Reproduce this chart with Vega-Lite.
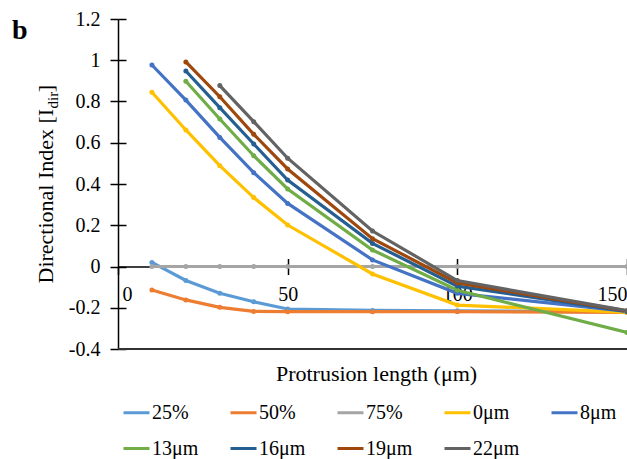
{
  "$schema": "https://vega.github.io/schema/vega-lite/v6.json",
  "width": 509,
  "height": 330,
  "autosize": {"type": "none"},
  "padding": {"left": 118, "top": 19, "right": 0, "bottom": 110},
  "background": "white",
  "title": {"text": "b", "font": "Liberation Serif", "fontSize": 28, "fontWeight": "bold", "color": "black", "anchor": "start", "frame": "group", "orient": "top", "baseline": "alphabetic", "dx": -106, "dy": 58, "offset": 0},
  "config": {
    "view": {"stroke": null},
    "font": "Liberation Serif",
    "axis": {"grid": false, "labelFont": "Liberation Serif", "titleFont": "Liberation Serif", "labelColor": "black", "titleColor": "black", "domainColor": "black", "tickColor": "black", "labelFontSize": 20, "titleFontSize": 22, "titleFontWeight": "normal", "domainWidth": 1.5, "tickWidth": 1.5}
  },
  "data": {"values": [
    {"s": "25%", "x": 10, "y": 0.02}, {"s": "25%", "x": 20, "y": -0.068}, {"s": "25%", "x": 30, "y": -0.13}, {"s": "25%", "x": 40, "y": -0.171}, {"s": "25%", "x": 50, "y": -0.206}, {"s": "25%", "x": 75, "y": -0.213}, {"s": "25%", "x": 100, "y": -0.215}, {"s": "25%", "x": 150, "y": -0.22},
    {"s": "50%", "x": 10, "y": -0.114}, {"s": "50%", "x": 20, "y": -0.162}, {"s": "50%", "x": 30, "y": -0.198}, {"s": "50%", "x": 40, "y": -0.218}, {"s": "50%", "x": 50, "y": -0.219}, {"s": "50%", "x": 75, "y": -0.219}, {"s": "50%", "x": 100, "y": -0.219}, {"s": "50%", "x": 150, "y": -0.222},
    {"s": "75%", "x": 10, "y": 0}, {"s": "75%", "x": 20, "y": 0}, {"s": "75%", "x": 30, "y": 0}, {"s": "75%", "x": 40, "y": 0}, {"s": "75%", "x": 50, "y": 0}, {"s": "75%", "x": 75, "y": 0}, {"s": "75%", "x": 100, "y": 0}, {"s": "75%", "x": 150, "y": 0},
    {"s": "0μm", "x": 10, "y": 0.845}, {"s": "0μm", "x": 20, "y": 0.662}, {"s": "0μm", "x": 30, "y": 0.489}, {"s": "0μm", "x": 40, "y": 0.334}, {"s": "0μm", "x": 50, "y": 0.201}, {"s": "0μm", "x": 75, "y": -0.036}, {"s": "0μm", "x": 100, "y": -0.187}, {"s": "0μm", "x": 150, "y": -0.222},
    {"s": "8μm", "x": 10, "y": 0.977}, {"s": "8μm", "x": 20, "y": 0.807}, {"s": "8μm", "x": 30, "y": 0.626}, {"s": "8μm", "x": 40, "y": 0.455}, {"s": "8μm", "x": 50, "y": 0.306}, {"s": "8μm", "x": 75, "y": 0.032}, {"s": "8μm", "x": 100, "y": -0.13}, {"s": "8μm", "x": 150, "y": -0.218},
    {"s": "13μm", "x": 20, "y": 0.898}, {"s": "13μm", "x": 30, "y": 0.715}, {"s": "13μm", "x": 40, "y": 0.537}, {"s": "13μm", "x": 50, "y": 0.376}, {"s": "13μm", "x": 75, "y": 0.08}, {"s": "13μm", "x": 100, "y": -0.115}, {"s": "13μm", "x": 150, "y": -0.32},
    {"s": "16μm", "x": 20, "y": 0.948}, {"s": "16μm", "x": 30, "y": 0.77}, {"s": "16μm", "x": 40, "y": 0.594}, {"s": "16μm", "x": 50, "y": 0.419}, {"s": "16μm", "x": 75, "y": 0.112}, {"s": "16μm", "x": 100, "y": -0.095}, {"s": "16μm", "x": 150, "y": -0.218},
    {"s": "19μm", "x": 20, "y": 0.992}, {"s": "19μm", "x": 30, "y": 0.823}, {"s": "19μm", "x": 40, "y": 0.641}, {"s": "19μm", "x": 50, "y": 0.473}, {"s": "19μm", "x": 75, "y": 0.135}, {"s": "19μm", "x": 100, "y": -0.08}, {"s": "19μm", "x": 150, "y": -0.215},
    {"s": "22μm", "x": 30, "y": 0.877}, {"s": "22μm", "x": 40, "y": 0.702}, {"s": "22μm", "x": 50, "y": 0.525}, {"s": "22μm", "x": 75, "y": 0.172}, {"s": "22μm", "x": 100, "y": -0.068}, {"s": "22μm", "x": 150, "y": -0.214}
  ]},
  "layer": [
    {
      "mark": {"type": "rule", "color": "#333333", "strokeWidth": 1.5},
      "encoding": {"y": {"datum": -0.4, "type": "quantitative", "axis": null}}
    },
    {
      "mark": {"type": "line", "strokeWidth": 3.2, "clip": true},
      "encoding": {
        "x": {"field": "x", "type": "quantitative", "scale": {"domain": [0, 150], "nice": false, "zero": false},
          "axis": {"orient": "bottom", "offset": -82.5, "values": [0, 50, 100, 150], "tickSize": 8, "labelPadding": 10, "labelFlush": false,
            "labelAlign": {"condition": [{"test": "datum.value == 0", "value": "left"}, {"test": "datum.value == 150", "value": "right"}], "value": "center"},
            "labelOffset": {"condition": {"test": "datum.value == 0", "value": 4}, "value": 0},
            "title": "Protrusion length (μm)", "titleX": 258, "titleY": 113.5, "titleAlign": "center", "titleBaseline": "alphabetic", "titleAnchor": null}},
        "y": {"field": "y", "type": "quantitative", "scale": {"domain": [-0.4, 1.2], "nice": false, "zero": false},
          "axis": {"orient": "left", "values": [-0.4, -0.2, 0, 0.2, 0.4, 0.6, 0.8, 1, 1.2], "tickSize": 8, "labelPadding": 10,
            "labelExpr": "'' + round(datum.value * 10) / 10",
            "title": "Directional Index [I\u00a0\u00a0\u00a0]", "titleAngle": 270, "titleAlign": "left", "titleBaseline": "alphabetic", "titleX": -66, "titleY": 264, "titleAnchor": null}},
        "color": {"field": "s", "type": "nominal",
          "scale": {"domain": ["25%", "50%", "75%", "0μm", "8μm", "13μm", "16μm", "19μm", "22μm"],
                    "range": ["#5B9BD5", "#ED7D31", "#A5A5A5", "#FFC000", "#4472C4", "#70AD47", "#255E91", "#9E480E", "#636363"]},
          "legend": {"orient": "none", "legendX": 4, "legendY": 379, "title": null, "columns": 5, "direction": "horizontal", "gridAlign": "all",
            "columnPadding": 25, "rowPadding": 11, "symbolType": "stroke", "symbolSize": 676, "symbolStrokeWidth": 3, "labelOffset": 1,
            "labelFont": "Liberation Serif", "labelFontSize": 20, "labelColor": "black"}}
      }
    },
    {
      "mark": {"type": "point", "filled": true, "size": 25, "opacity": 1, "clip": true},
      "encoding": {
        "x": {"field": "x", "type": "quantitative",
          "axis": {"orient": "bottom", "offset": -82.5, "values": [50, 100, 150], "tickSize": -8, "labels": false, "domain": false, "title": null}},
        "y": {"field": "y", "type": "quantitative",
          "axis": {"orient": "left", "values": [-0.4, -0.2, 0, 0.2, 0.4, 0.6, 0.8, 1, 1.2], "tickSize": -8, "labels": false, "domain": false,
            "title": "dir", "titleFontSize": 15, "titleAngle": 270, "titleAlign": "left", "titleBaseline": "alphabetic", "titleX": -61, "titleY": 89, "titleAnchor": null}},
        "color": {"field": "s", "type": "nominal"}
      }
    }
  ],
  "resolve": {"axis": {"x": "independent", "y": "independent"}}
}
